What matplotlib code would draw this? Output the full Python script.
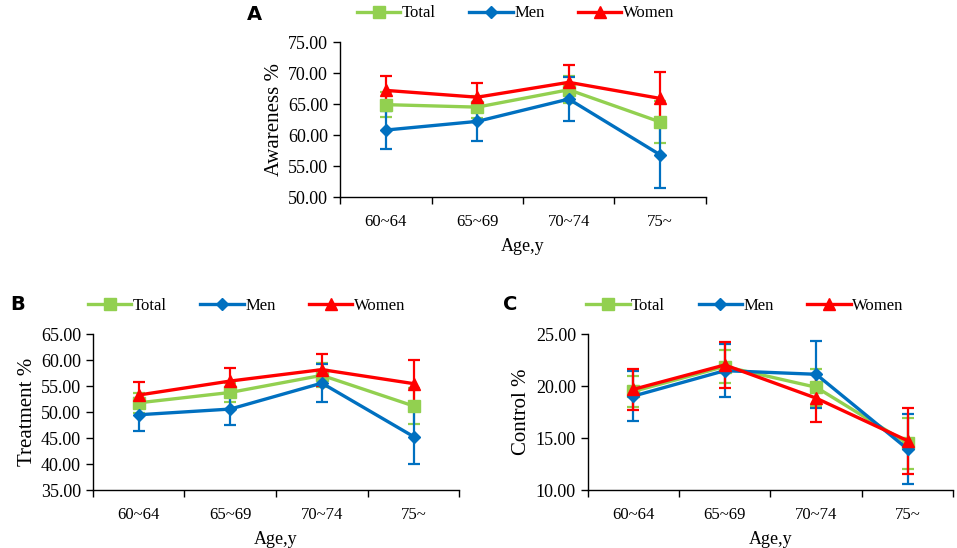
import numpy as np
import matplotlib.pyplot as plt
from matplotlib.ticker import FormatStrFormatter

plt.rcParams['font.family'] = ['Liberation Serif', 'DejaVu Serif']

ages = ["60~64", "65~69", "70~74", "75~"]
series_names = ["Total", "Men", "Women"]
colors = ["#92D050", "#0070C0", "#FF0000"]
markers = ["s", "D", "^"]
marker_sizes = [9, 6, 9]

# panel A - awareness
aware_total = [64.9, 64.5, 67.3, 62.1]
aware_total_err = [2.0, 1.8, 2.2, 3.4]
aware_men = [60.8, 62.2, 65.8, 56.8]
aware_men_err = [3.1, 3.1, 3.6, 5.4]
aware_women = [67.2, 66.1, 68.5, 65.9]
aware_women_err = [2.3, 2.3, 2.8, 4.2]

# panel B - treatment
treat_total = [51.8, 53.8, 57.1, 51.2]
treat_total_err = [1.9, 1.9, 2.3, 3.5]
treat_men = [49.5, 50.6, 55.6, 45.3]
treat_men_err = [3.2, 3.1, 3.7, 5.3]
treat_women = [53.3, 56.0, 58.2, 55.5]
treat_women_err = [2.5, 2.5, 3.1, 4.5]

# panel C - control
ctrl_total = [19.5, 21.9, 19.9, 14.5]
ctrl_total_err = [1.5, 1.6, 1.8, 2.45]
ctrl_men = [19.05, 21.5, 21.15, 13.95]
ctrl_men_err = [2.4, 2.55, 3.2, 3.4]
ctrl_women = [19.7, 22.05, 18.85, 14.75]
ctrl_women_err = [2.0, 2.2, 2.3, 3.2]


def draw_panel(ax, vals, errs, ylim, ylabel, letter, letter_px, legend_x):
    x = np.arange(len(ages)) + 0.5
    handles = []
    for i in range(3):
        ax.errorbar(x, vals[i], yerr=errs[i], color=colors[i], lw=0,
                    elinewidth=1.6, capsize=4, capthick=1.6, zorder=2 + i)
    for i in range(3):
        h, = ax.plot(x, vals[i], color=colors[i], lw=2.4, marker=markers[i],
                     ms=marker_sizes[i], zorder=5 + i, label=series_names[i])
        handles.append(h)
    ax.set_xlim(0, 4)
    ax.set_ylim(*ylim)
    ax.set_yticks(np.arange(ylim[0], ylim[1] + 0.1, 5))
    ax.yaxis.set_major_formatter(FormatStrFormatter('%.2f'))
    ax.set_xticks(np.arange(0, 5))
    ax.set_xticklabels([])
    ax.set_xticks(x, minor=True)
    ax.set_xticklabels(ages, minor=True)
    ax.tick_params(axis='x', which='minor', length=0, pad=12, labelsize=12)
    ax.tick_params(axis='x', which='major', direction='out', length=5, width=1)
    ax.tick_params(axis='y', direction='out', length=5, width=1, labelsize=13)
    for s in ['top', 'right']:
        ax.spines[s].set_visible(False)
    for s in ['left', 'bottom']:
        ax.spines[s].set_linewidth(1)
    ax.set_xlabel("Age,y", fontsize=13, labelpad=6)
    ax.set_ylabel(ylabel, fontsize=15, labelpad=3)
    ax.legend(handles=handles, loc='lower center', bbox_to_anchor=(legend_x, 1.09),
              ncol=3, frameon=False, fontsize=12, handlelength=2.6,
              columnspacing=2.0, handletextpad=0.1, borderaxespad=0)
    fig.text(letter_px[0] / 957, 1 - letter_px[1] / 548, letter, fontsize=14,
             fontweight='bold', family='DejaVu Sans', va='center', ha='left')


fig = plt.figure(figsize=(9.57, 5.48), dpi=100)
ax_a = fig.add_axes([0.3553, 0.6405, 0.3824, 0.2828])
ax_b = fig.add_axes([0.0969, 0.1058, 0.3831, 0.2841])
ax_c = fig.add_axes([0.6141, 0.1058, 0.3820, 0.2841])

draw_panel(ax_a, [aware_total, aware_men, aware_women],
           [aware_total_err, aware_men_err, aware_women_err],
           (50, 75), "Awareness %", "A", (247, 14), 0.48)
draw_panel(ax_b, [treat_total, treat_men, treat_women],
           [treat_total_err, treat_men_err, treat_women_err],
           (35, 65), "Treatment %", "B", (10, 305), 0.42)
draw_panel(ax_c, [ctrl_total, ctrl_men, ctrl_women],
           [ctrl_total_err, ctrl_men_err, ctrl_women_err],
           (10, 25), "Control %", "C", (503, 304), 0.43)

fig.savefig("out.png", dpi=100)
